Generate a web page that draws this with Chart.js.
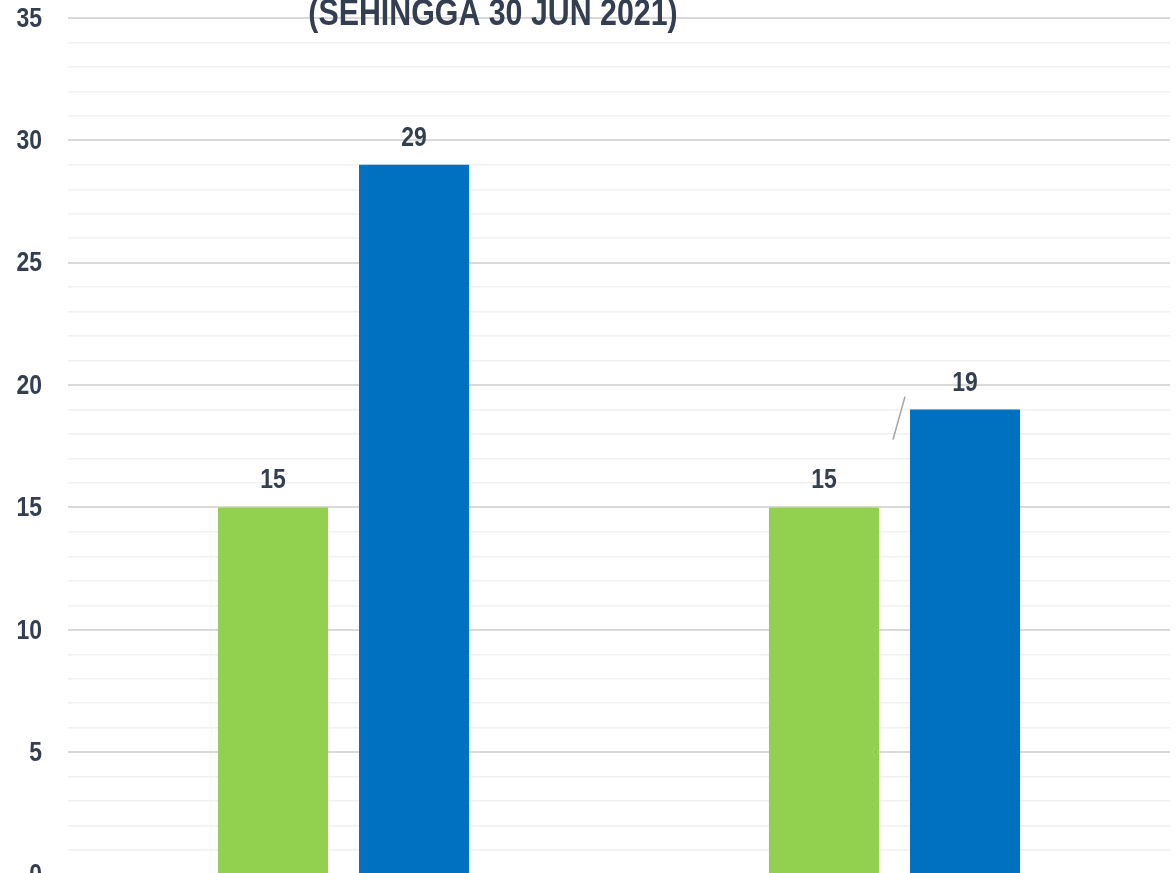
<!DOCTYPE html>
<html>
<head>
<meta charset="utf-8">
<script src="https://cdn.jsdelivr.net/npm/chart.js@4"></script>
<style>
    html, body { margin: 0; padding: 0; background: #fff; overflow: hidden; }
    #wrap { position: relative; width: 1176px; height: 900px; }
</style>
</head>
<body>
<div id="wrap"><canvas id="myChart"></canvas></div>
<script>
const categories = ["Kategori 1", "Kategori 2"];
const greenValues = [15, 15];
const blueValues = [29, 19];
const titleText = "(SEHINGGA 30 JUN 2021)";
const yMin = 0;
const yMax = 35;

const textColor = "#333f50";
const fontFamily = "'Liberation Sans', Arial, sans-serif";

// Arial Narrow look: bold Liberation Sans squeezed horizontally
function narrowText(ctx, text, x, y, size, align, baseline) {
    ctx.save();
    ctx.translate(x, y);
    ctx.scale(0.82, 1);
    ctx.font = "bold " + size + "px " + fontFamily;
    ctx.textAlign = align;
    ctx.textBaseline = baseline;
    ctx.fillStyle = textColor;
    ctx.fillText(text, 0, 0);
    ctx.restore();
}

const overlayPlugin = {
    id: "overlay",
    afterDraw(chart) {
        const ctx = chart.ctx;
        const y = chart.scales.y;

        // y tick labels (every 5)
        y.ticks.forEach(t => {
            if (t.value % 5 === 0) {
                narrowText(ctx, String(t.value), 42, y.getPixelForValue(t.value) + 1, 28, "right", "middle");
            }
        });

        // value labels above bars
        chart.data.datasets.forEach((ds, i) => {
            chart.getDatasetMeta(i).data.forEach((bar, j) => {
                narrowText(ctx, String(ds.data[j]), bar.x, bar.y - 19, 28, "center", "alphabetic");
            });
        });

        // leader line next to the second blue bar
        const b = chart.getDatasetMeta(1).data[1];
        ctx.save();
        ctx.strokeStyle = "#a6a6a6";
        ctx.lineWidth = 1.5;
        ctx.beginPath();
        ctx.moveTo(b.x - 72, b.y + 30);
        ctx.lineTo(b.x - 60, b.y - 13);
        ctx.stroke();
        ctx.restore();

        narrowText(ctx, titleText, 493, 25, 37, "center", "alphabetic");
    }
};

const ctx = document.getElementById("myChart").getContext("2d");

const myChart = new Chart(ctx, {
    type: "bar",
    data: {
        labels: categories,
        datasets: [
            {
                label: "A",
                data: greenValues,
                backgroundColor: "#92d050",
                categoryPercentage: 0.512,
                barPercentage: 0.78
            },
            {
                label: "B",
                data: blueValues,
                backgroundColor: "#0070c0",
                categoryPercentage: 0.512,
                barPercentage: 0.78
            }
        ]
    },
    options: {
        responsive: true,
        maintainAspectRatio: false,
        animation: false,
        layout: {
            padding: { top: 18, right: 6, bottom: 25.5, left: 0 }
        },
        plugins: {
            legend: { display: false },
            tooltip: { enabled: false }
        },
        scales: {
            x: {
                display: false
            },
            y: {
                min: yMin,
                max: yMax,
                border: { display: false },
                afterFit(scale) { scale.width = 68; },
                grid: {
                    drawTicks: false,
                    color: c => (c.tick.value % 5 === 0 ? "#d9d9d9" : "#f0f0f0"),
                    lineWidth: c => (c.tick.value % 5 === 0 ? 2 : 1.5)
                },
                ticks: {
                    stepSize: 1,
                    autoSkip: false,
                    display: false
                }
            }
        }
    },
    plugins: [overlayPlugin]
});
</script>
</body>
</html>
